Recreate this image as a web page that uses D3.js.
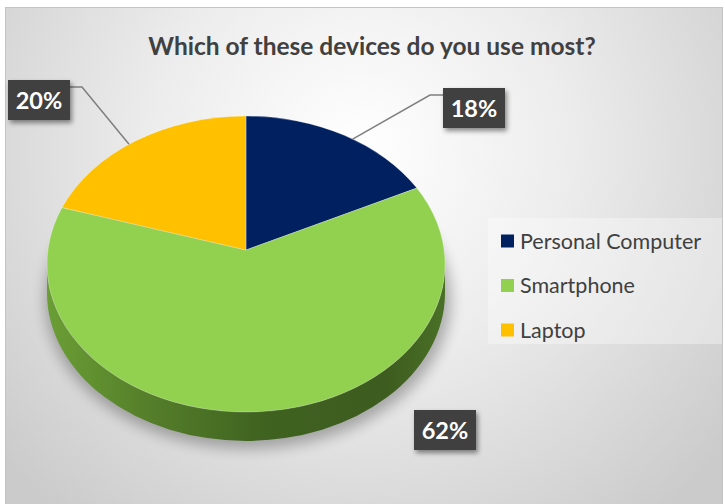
<!DOCTYPE html>
<html lang="en">
  <head>
    <meta charset="UTF-8" />
    <title>Which of these devices do you use most?</title>
    <script src="https://d3js.org/d3.v7.min.js"></script>
    <style>
      body { margin: 0; background: #fff; }
    </style>
  </head>
  <body>
    <div id="chart"></div>
  </body>
</html>

<script>
  const title = "Which of these devices do you use most?"
  const categories = ["Personal Computer", "Smartphone", "Laptop"]
  const values = [18, 62, 20]
  const colors = ["#002060", "#92d050", "#ffc000"]

  const width = 725
  const height = 504
  const font = "Lato, 'Open Sans', sans-serif"

  // pie geometry (top face is an ellipse, vertex sits a bit above its centre)
  const cx = 246, cy = 264, rx = 199, ry = 148, depth = 29
  const vx = 246, vy = 250
  const warp = 1.27 // squeezes the far half a little, like the perspective view
  // label box centres, layout only
  const labelPos = [[474, 108], [445, 430], [39, 100]]

  const svg = d3
    .select("#chart")
    .append("svg")
    .attr("width", width)
    .attr("height", height)

  const defs = svg.append("defs")

  const bg = defs.append("radialGradient")
    .attr("id", "bg")
    .attr("gradientUnits", "userSpaceOnUse")
    .attr("cx", 360).attr("cy", 150).attr("r", 470)
  bg.append("stop").attr("offset", "0%").attr("stop-color", "#ffffff")
  bg.append("stop").attr("offset", "45%").attr("stop-color", "#ececec")
  bg.append("stop").attr("offset", "100%").attr("stop-color", "#cbcbcb")

  const rim = defs.append("linearGradient")
    .attr("id", "rim")
    .attr("gradientUnits", "userSpaceOnUse")
    .attr("x1", cx - rx).attr("x2", cx + rx).attr("y1", 0).attr("y2", 0)
  rim.append("stop").attr("offset", "0%").attr("stop-color", "#6a9e35")
  rim.append("stop").attr("offset", "25%").attr("stop-color", "#557f2a")
  rim.append("stop").attr("offset", "55%").attr("stop-color", "#3f6220")
  rim.append("stop").attr("offset", "85%").attr("stop-color", "#3d5c1f")
  rim.append("stop").attr("offset", "100%").attr("stop-color", "#4a7026")

  const blur = defs.append("filter").attr("id", "blur")
    .attr("x", "-20%").attr("y", "-20%").attr("width", "140%").attr("height", "140%")
  blur.append("feGaussianBlur").attr("stdDeviation", 7)

  const boxShadow = defs.append("filter").attr("id", "boxShadow")
    .attr("x", "-30%").attr("y", "-30%").attr("width", "160%").attr("height", "170%")
  boxShadow.append("feDropShadow")
    .attr("dx", 2).attr("dy", 3).attr("stdDeviation", 2.5)
    .attr("flood-color", "#000").attr("flood-opacity", 0.45)

  // chart area
  svg.append("rect")
    .attr("x", 5.5).attr("y", 7.5)
    .attr("width", 717).attr("height", 500)
    .attr("fill", "url(#bg)")
    .attr("stroke", "#c4c4c4")

  svg.append("text")
    .attr("x", 372)
    .attr("y", 55)
    .attr("text-anchor", "middle")
    .attr("font-family", font)
    .attr("font-weight", "bold")
    .attr("font-size", 24.5)
    .attr("fill", "#404040")
    .text(title)

  const pie = d3.pie().sort(null).value((d) => d)
  const arcs = pie(values)

  // point on the top ellipse for a pie angle
  const pt = (a) => [cx + rx * Math.sin(a), cy - ry * Math.cos(a)]
  const ptWarped = (a) => pt(Math.atan2(Math.sin(a), warp * Math.cos(a)))

  function slicePath(d) {
    const a = ptWarped(d.startAngle), b = ptWarped(d.endAngle)
    const large = d.endAngle - d.startAngle > Math.PI ? 1 : 0
    return `M${vx},${vy}L${a[0]},${a[1]}A${rx},${ry} 0 ${large} 1 ${b[0]},${b[1]}Z`
  }

  const pieG = svg.append("g")

  // soft shadow under the pie
  pieG.append("ellipse")
    .attr("cx", cx + 2).attr("cy", cy + depth + 6)
    .attr("rx", rx + 4).attr("ry", ry + 2)
    .attr("fill", "#000")
    .attr("opacity", 0.28)
    .attr("filter", "url(#blur)")

  // front side of the pie
  pieG.append("path")
    .attr("d", `M${cx + rx},${cy}A${rx},${ry} 0 0 1 ${cx - rx},${cy}L${cx - rx},${cy + depth}A${rx},${ry} 0 0 0 ${cx + rx},${cy + depth}Z`)
    .attr("fill", "url(#rim)")

  pieG.selectAll("path.slice")
    .data(arcs)
    .enter()
    .append("path")
    .attr("class", "slice")
    .attr("d", slicePath)
    .attr("fill", (d, i) => colors[i])
    .attr("stroke", "rgba(255,255,255,0.35)")
    .attr("stroke-width", 0.8)

  // leader lines (only for the two upper labels)
  const leaders = [
    { i: 0, elbow: [430, 95], end: [443, 95] },
    { i: 2, elbow: [82, 87], end: [70, 87] }
  ]
  svg.selectAll("polyline.leader")
    .data(leaders)
    .enter()
    .append("polyline")
    .attr("class", "leader")
    .attr("points", (d) => {
      const a = arcs[d.i]
      const m = pt((a.startAngle + a.endAngle) / 2)
      return [m, d.elbow, d.end].map((p) => p.join(",")).join(" ")
    })
    .attr("fill", "none")
    .attr("stroke", "#7f7f7f")
    .attr("stroke-width", 1.5)

  const labels = svg.selectAll("g.label")
    .data(arcs)
    .enter()
    .append("g")
    .attr("class", "label")
    .attr("transform", (d, i) => `translate(${labelPos[i][0]},${labelPos[i][1]})`)

  labels.append("rect")
    .attr("x", -31).attr("y", -20)
    .attr("width", 62).attr("height", 40)
    .attr("fill", "#404040")
    .attr("filter", "url(#boxShadow)")

  labels.append("text")
    .attr("text-anchor", "middle")
    .attr("y", 8.5)
    .attr("font-family", font)
    .attr("font-weight", "bold")
    .attr("font-size", 23.5)
    .attr("fill", "#ffffff")
    .text((d) => d.value + "%")

  // legend
  const legend = svg.append("g")
  legend.append("rect")
    .attr("x", 488).attr("y", 218)
    .attr("width", 234).attr("height", 126)
    .attr("fill", "#ffffff")
    .attr("opacity", 0.35)

  const items = legend.selectAll("g.item")
    .data(categories)
    .enter()
    .append("g")
    .attr("class", "item")
    .attr("transform", (d, i) => `translate(501,${241 + i * 44.5})`)

  items.append("rect")
    .attr("x", 0).attr("y", -6.5)
    .attr("width", 13).attr("height", 13)
    .attr("fill", (d, i) => colors[i])

  items.append("text")
    .attr("x", 19)
    .attr("y", 7.5)
    .attr("font-family", font)
    .attr("font-size", 21.5)
    .attr("fill", "#404040")
    .text((d) => d)
</script>
